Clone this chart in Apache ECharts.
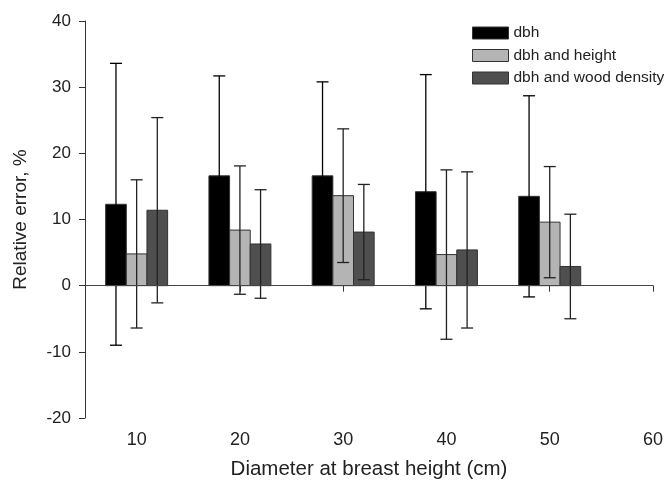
<!DOCTYPE html>
<html>
<head>
<meta charset="utf-8">
<script src="https://cdn.jsdelivr.net/npm/echarts@6/dist/echarts.min.js"></script>
<style>
  html, body { margin: 0; background: #fff; }
  #chart { width: 667px; height: 487px; }
</style>
</head>
<body>
<div id="chart"></div>
<script>
// relative error (%) by diameter class, +/- error bars
const diameters = [10, 20, 30, 40, 50];
const dbh = [12.3, 16.6, 16.6, 14.2, 13.5];
const dbhErr = [21.3, 15.1, 14.2, 17.7, 15.2];
const dbhHeight = [4.8, 8.4, 13.6, 4.7, 9.6];
const dbhHeightErr = [11.2, 9.7, 10.1, 12.8, 8.4];
const dbhDensity = [11.4, 6.3, 8.1, 5.4, 2.9];
const dbhDensityErr = [14.0, 8.2, 7.2, 11.8, 7.9];
const xTicks = [10, 20, 30, 40, 50, 60];

const font = "Liberation Sans, Arial, sans-serif";
const ink = "#222";

function barSeries(name, values, errs, offset, color, errColor) {
  return {
    type: "custom",
    name,
    itemStyle: { color, borderColor: "#333", borderWidth: 1 },
    data: diameters.map((d, i) => [d, values[i], errs[i]]),
    encode: { x: 0, y: 1 },
    renderItem: (params, api) => {
      const x = api.value(0) + offset;
      const v = api.value(1);
      const e = api.value(2);
      const a = api.coord([x - 1, v]);
      const b = api.coord([x + 1, 0]);
      const top = api.coord([x, v + e]);
      const bot = api.coord([x, v - e]);
      const cap = 6;
      const line = { stroke: errColor, lineWidth: 1.3 };
      return {
        type: "group",
        children: [
          {
            type: "rect",
            shape: { x: a[0], y: Math.min(a[1], b[1]), width: b[0] - a[0], height: Math.abs(b[1] - a[1]) },
            style: { fill: color, stroke: "#333", lineWidth: 1 },
          },
          { type: "line", shape: { x1: top[0], y1: top[1], x2: bot[0], y2: bot[1] }, style: line },
          { type: "line", shape: { x1: top[0] - cap, y1: top[1], x2: top[0] + cap, y2: top[1] }, style: line },
          { type: "line", shape: { x1: bot[0] - cap, y1: bot[1], x2: bot[0] + cap, y2: bot[1] }, style: line },
        ],
      };
    },
  };
}

const chart = echarts.init(document.querySelector("#chart"));
const series = [
  barSeries("dbh", dbh, dbhErr, -2, "#000", "#000"),
  barSeries("dbh and height", dbhHeight, dbhHeightErr, 0, "#b4b4b4", ink),
  barSeries("dbh and wood density", dbhDensity, dbhDensityErr, 2, "#4f4f4f", ink),
];
series[0].markLine = {
  silent: true,
  symbol: "none",
  label: { show: false },
  lineStyle: { color: "#444", width: 1, type: "solid" },
  data: [{ yAxis: 0 }],
};

chart.setOption({
  animation: false,
  textStyle: { fontFamily: font },
  grid: { left: 85, right: 14, top: 21, bottom: 69 },
  legend: {
    orient: "vertical",
    left: 467,
    top: 20,
    itemWidth: 36,
    itemHeight: 12,
    itemGap: 6.5,
    textStyle: { fontSize: 15.5, color: ink, fontFamily: font, lineHeight: 13 },
    data: [
      { name: "dbh", icon: "rect", itemStyle: { color: "#000", borderColor: "#333", borderWidth: 1 } },
      { name: "dbh and height", icon: "rect", itemStyle: { color: "#b4b4b4", borderColor: "#333", borderWidth: 1 } },
      { name: "dbh and wood density", icon: "rect", itemStyle: { color: "#4f4f4f", borderColor: "#333", borderWidth: 1 } },
    ],
  },
  xAxis: {
    type: "value",
    min: 5,
    max: 60,
    name: "Diameter at breast height (cm)",
    nameLocation: "middle",
    nameGap: 41,
    nameTextStyle: { fontSize: 20.5, color: ink, fontFamily: font },
    splitLine: { show: false },
    axisLine: { lineStyle: { color: "#333", width: 1 } },
    axisTick: { length: 6, customValues: xTicks, lineStyle: { color: "#333" } },
    axisLabel: { customValues: xTicks, fontSize: 18, color: ink, margin: 13 },
  },
  yAxis: {
    type: "value",
    min: -20,
    max: 40,
    interval: 10,
    name: "Relative error, %",
    nameLocation: "middle",
    nameGap: 55,
    nameTextStyle: { fontSize: 19, color: ink, fontFamily: font },
    splitLine: { show: false },
    axisLine: { show: true, lineStyle: { color: "#333", width: 1 } },
    axisTick: { show: true, length: 6, lineStyle: { color: "#333" } },
    axisLabel: { fontSize: 17, color: ink, margin: 14 },
  },
  series,
});
</script>
</body>
</html>
